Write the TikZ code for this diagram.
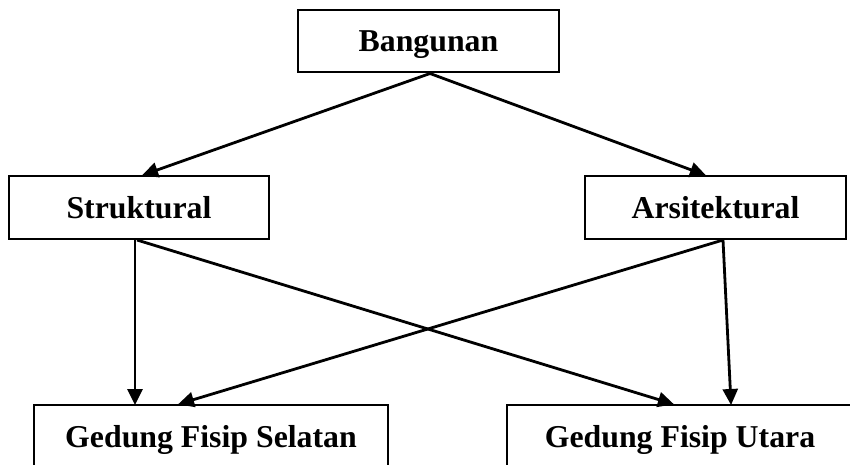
\documentclass[tikz,border=0pt]{standalone}
\usepackage{fontspec}
\setmainfont{Liberation Serif}
\usetikzlibrary{arrows.meta}
\begin{document}
\begin{tikzpicture}[x=1pt,y=-1pt,
  boxnode/.style={draw,line width=2pt,inner sep=0pt,minimum height=63pt,
    text height=21pt,text depth=0pt,
    font=\fontsize{31.8}{38}\selectfont\bfseries},
  conn/.style={line width=2.8pt,-{Triangle[length=16pt,width=15pt]},shorten >=-1pt}]
\useasboundingbox (0,0) rectangle (850,465);
\clip (0,0) rectangle (850,465);
\node[boxnode,minimum width=261pt,minimum height=62pt] (bang) at (428.5,41.5) {Bangunan};
\node[boxnode,minimum width=260pt] (struk) at (139,207.5) {Struktural};
\node[boxnode,minimum width=261pt] (arsi) at (715.5,207.5) {Arsitektural};
\node[boxnode,minimum width=354pt] (sel) at (211,436.5) {Gedung Fisip Selatan};
\node[boxnode,minimum width=346pt] (uta) at (680,436.5) {Gedung Fisip Utara};
\coordinate (b0) at ([xshift=1.5pt]bang.south);
\coordinate (s1) at ([xshift=4pt]struk.north);
\coordinate (a1) at ([xshift=-10.5pt]arsi.north);
\coordinate (s0) at ([xshift=-4pt]struk.south);
\coordinate (s0b) at ([xshift=-2pt]struk.south);
\coordinate (a0) at ([xshift=7.5pt]arsi.south);
\coordinate (selA) at ([xshift=-76pt]sel.north);
\coordinate (selB) at ([xshift=-32pt]sel.north);
\coordinate (utaA) at ([xshift=-7pt]uta.north);
\coordinate (utaB) at ([xshift=51pt]uta.north);
\draw[conn] (b0) -- (s1);
\draw[conn] (b0) -- (a1);
\draw[conn] (s0) -- (selA);
\draw[conn] (s0b) -- (utaA);
\draw[conn] (a0) -- (utaB);
\draw[conn] (a0) -- (selB);
\end{tikzpicture}
\end{document}
